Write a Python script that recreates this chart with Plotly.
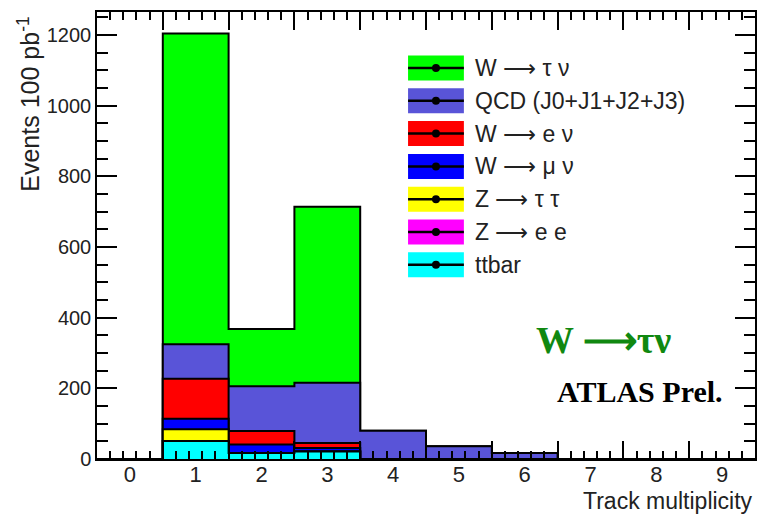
import numpy as np
import plotly.graph_objects as go

# Track multiplicity bins (bin centres)
track_mult = [0, 1, 2, 3, 4, 5, 6, 7, 8, 9]

# Expected events per 100 pb^-1, per process, per bin
w_taunu  = [0, 879, 162, 498, 0, 0, 0, 0, 0, 0]
qcd      = [0, 98, 127, 171, 80, 36, 17, 0, 0, 0]
w_enu    = [0, 113, 38, 14, 0, 0, 0, 0, 0, 0]
w_munu   = [0, 30, 24, 10, 0, 0, 0, 0, 0, 0]
z_tautau = [0, 33, 0, 0, 0, 0, 0, 0, 0, 0]
z_ee     = [0, 0, 0, 0, 0, 0, 0, 0, 0, 0]
ttbar    = [0, 51, 17, 21, 0, 0, 0, 0, 0, 0]

y_tick_vals = [0, 200, 400, 600, 800, 1000, 1200]

ARROW = "\u27f6"

# stack order, bottom to top
stack = [
    ("ttbar", ttbar, "#00ffff"),
    (f"Z {ARROW} e e", z_ee, "#ff00ff"),
    (f"Z {ARROW} \u03c4 \u03c4", z_tautau, "#ffff00"),
    (f"W {ARROW} \u03bc \u03bd", w_munu, "#0000ff"),
    (f"W {ARROW} e \u03bd", w_enu, "#ff0000"),
    ("QCD (J0+J1+J2+J3)", qcd, "#5954d8"),
    (f"W {ARROW} \u03c4 \u03bd", w_taunu, "#00ff00"),
]

centres = np.array(track_mult, dtype=float)
edges = np.concatenate([centres - 0.5, [centres[-1] + 0.5]])
cum = np.cumsum(np.array([s[1] for s in stack], dtype=float), axis=0)

fig = go.Figure()

# draw from the top of the stack downwards so lower layers overlay
for k in reversed(range(len(stack))):
    c = cum[k]
    xs = [edges[0]] + list(edges[:-1]) + [edges[-1], edges[-1]]
    ys = [0.0] + list(c) + [c[-1], 0.0]
    fig.add_trace(go.Scatter(
        x=xs, y=ys, mode="lines", line=dict(shape="hv", color="black", width=2),
        fill="tozeroy", fillcolor=stack[k][2], showlegend=False,
        hoverinfo="skip", name=stack[k][0]))

# carrier for the label axis
fig.add_trace(go.Scatter(x=[centres[0]], y=[0], xaxis="x2", mode="markers",
                         marker=dict(opacity=0), showlegend=False, hoverinfo="skip"))

# plot-area geometry in pixels
L, R, T, B = 97, 757, 12, 459
W_, H_ = R - L, B - T


def px(x):
    return (x - L) / W_


def py(y):
    return (B - y) / H_


shapes = []
annotations = []

# legend (top entry first)
legend_entries = list(reversed(stack))
for i, (name, _, color) in enumerate(legend_entries):
    yc = 68 + 32.8 * i
    shapes.append(dict(type="rect", xref="paper", yref="paper",
                       x0=px(409), x1=px(465), y0=py(yc + 12.5), y1=py(yc - 12.5),
                       fillcolor=color, line=dict(width=0)))
    shapes.append(dict(type="line", xref="paper", yref="paper",
                       x0=px(409), x1=px(465), y0=py(yc), y1=py(yc),
                       line=dict(color="black", width=2.5)))
    shapes.append(dict(type="circle", xref="paper", yref="paper",
                       x0=px(433), x1=px(441), y0=py(yc + 4), y1=py(yc - 4),
                       fillcolor="black", line=dict(color="black", width=0)))
    annotations.append(dict(xref="paper", yref="paper", x=px(474), y=py(yc),
                            xanchor="left", yanchor="middle", showarrow=False,
                            text=name, font=dict(family="Liberation Sans, Arial", size=23, color="#222")))

annotations += [
    dict(xref="paper", yref="paper", x=px(535), y=py(363), xanchor="left", yanchor="bottom",
         showarrow=False, text=f"<b>W {ARROW}\u03c4\u03bd</b>",
         font=dict(family="Liberation Serif, Times New Roman", size=38, color="#108810")),
    dict(xref="paper", yref="paper", x=px(727), y=py(410), xanchor="right", yanchor="bottom",
         showarrow=False, text="<b>ATLAS Prel.</b>",
         font=dict(family="Liberation Serif, Times New Roman", size=30, color="black")),
    dict(xref="paper", yref="paper", x=1.0, y=py(516), xanchor="right", yanchor="bottom",
         showarrow=False, text="Track multiplicity",
         font=dict(family="Liberation Sans, Arial", size=23, color="#222")),
    dict(xref="paper", yref="paper", x=px(28), y=py(15), xanchor="center", yanchor="top",
         textangle=-90, showarrow=False, text="Events 100 pb<sup>-1</sup>",
         font=dict(family="Liberation Sans, Arial", size=25, color="#222")),
]

fig.update_layout(
    width=760, height=516,
    margin=dict(l=L, r=760 - R, t=T, b=516 - B),
    paper_bgcolor="white", plot_bgcolor="white",
    showlegend=False,
    shapes=shapes, annotations=annotations,
    xaxis=dict(range=[edges[0], edges[-1]], tickmode="array", tickvals=list(edges),
               showticklabels=False, ticks="inside", ticklen=18, tickwidth=1.5,
               tickcolor="black", showline=True, linecolor="black", linewidth=1.5,
               mirror="ticks", showgrid=False, zeroline=False,
               minor=dict(tickmode="linear", tick0=edges[0], dtick=0.2, ticks="inside",
                          ticklen=8, tickwidth=1.5, tickcolor="black", showgrid=False)),
    xaxis2=dict(overlaying="x", anchor="y", side="bottom", range=[edges[0], edges[-1]],
                tickmode="array", tickvals=track_mult, ticktext=[str(v) for v in track_mult],
                ticks="", showline=False, showgrid=False, zeroline=False,
                tickfont=dict(family="Liberation Sans, Arial", size=22, color="#222")),
    yaxis=dict(range=[0, 1265], tickmode="array", tickvals=y_tick_vals,
               ticktext=[str(v) for v in y_tick_vals],
               ticks="inside", ticklen=20, tickwidth=1.5, tickcolor="black",
               showline=True, linecolor="black", linewidth=1.5, mirror="ticks",
               showgrid=False, zeroline=False,
               tickfont=dict(family="Liberation Sans, Arial", size=20, color="#222"),
               minor=dict(tickmode="linear", tick0=0, dtick=50, ticks="inside",
                          ticklen=11, tickwidth=1.5, tickcolor="black", showgrid=False)),
)

fig.write_html("out.html")
